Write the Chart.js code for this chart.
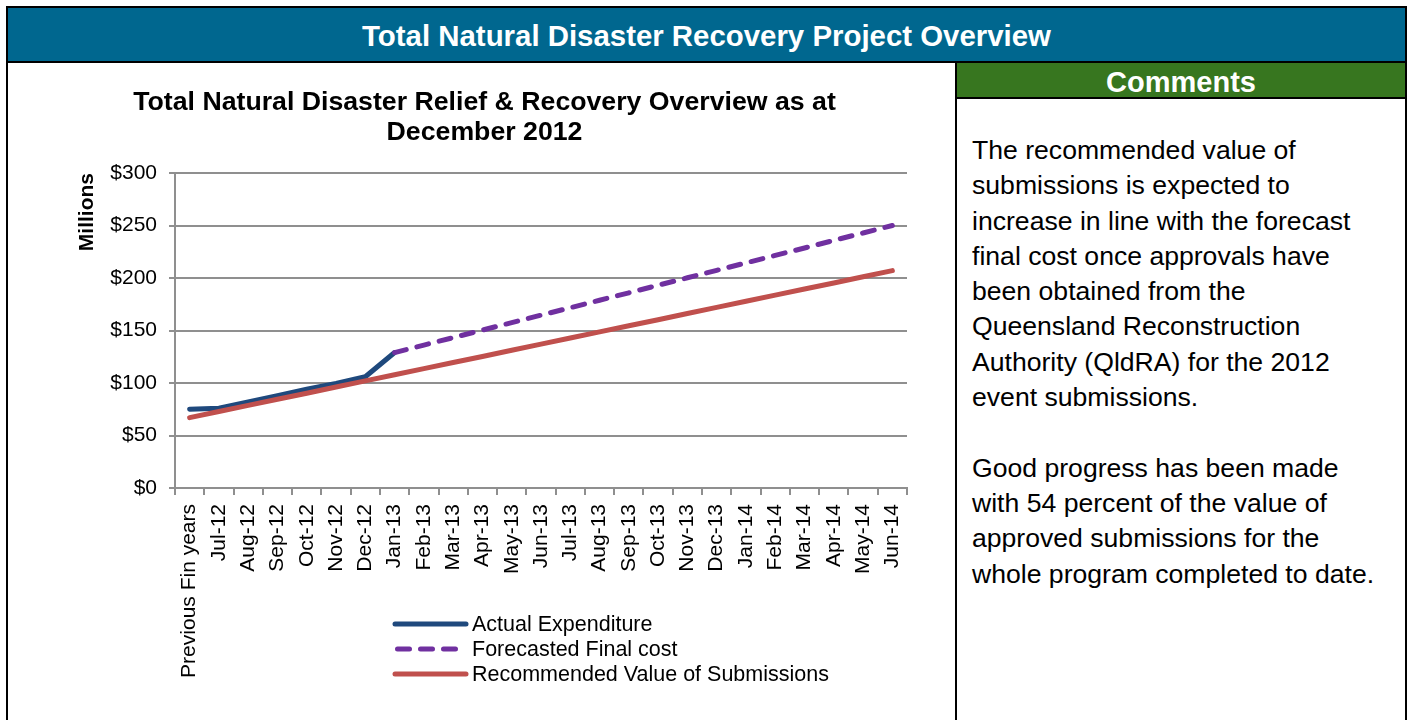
<!DOCTYPE html>
<html>
<head>
<meta charset="utf-8">
<script src="https://cdn.jsdelivr.net/npm/chart.js@4.4.1/dist/chart.umd.min.js"></script>
<style>
    body { margin: 0; background: #fff; font-family: 'Liberation Sans', Arial, sans-serif; }
    .frame { position: absolute; left: 6px; top: 6px; width: 1401px; height: 720px; border: 2px solid #000; border-bottom: none; box-sizing: border-box; }
    .header { position: absolute; left: 8px; top: 8px; width: 1397px; height: 53px; background: #00678f; border-bottom: 2px solid #000;
        color: #fff; font-weight: bold; font-size: 29.4px; line-height: 55px; text-align: center; }
    .divider { position: absolute; left: 955px; top: 63px; width: 2px; height: 657px; background: #000; }
    .comments-head { position: absolute; left: 957px; top: 63px; width: 448px; height: 34px; background: #37761f; border-bottom: 2px solid #000;
        color: #fff; font-weight: bold; font-size: 29px; line-height: 38px; text-align: center; }
    .comments { position: absolute; left: 972px; top: 133px; font-size: 26.6px; line-height: 35.3px; color: #000; white-space: nowrap; }
    .chart-box { position: absolute; left: 8px; top: 63px; width: 947px; height: 657px; }
</style>
</head>
<body>
<div class="frame"></div>
<div class="header">Total Natural Disaster Recovery Project Overview</div>
<div class="divider"></div>
<div class="comments-head">Comments</div>
<div class="comments">
The recommended value of<br>
submissions is expected to<br>
increase in line with the forecast<br>
final cost once approvals have<br>
been obtained from the<br>
Queensland Reconstruction<br>
Authority (QldRA) for the 2012<br>
event submissions.<br>
<br>
Good progress has been made<br>
with 54 percent of the value of<br>
approved submissions for the<br>
whole program completed to date.
</div>
<div class="chart-box"><canvas id="chart"></canvas></div>

<script>
const labels = [
    'Previous Fin years', 'Jul-12', 'Aug-12', 'Sep-12', 'Oct-12', 'Nov-12', 'Dec-12',
    'Jan-13', 'Feb-13', 'Mar-13', 'Apr-13', 'May-13', 'Jun-13', 'Jul-13', 'Aug-13',
    'Sep-13', 'Oct-13', 'Nov-13', 'Dec-13', 'Jan-14', 'Feb-14', 'Mar-14', 'Apr-14',
    'May-14', 'Jun-14',
];

// millions of dollars
const actual = [75, 76, 82, 88, 94, 99.5, 106, 129,
    null, null, null, null, null, null, null, null, null, null, null, null, null, null, null, null, null];

const forecast = [null, null, null, null, null, null, null,
    129, 136.1, 143.2, 150.4, 157.5, 164.6, 171.7, 178.8, 185.9, 193.1, 200.2,
    207.3, 214.4, 221.5, 228.6, 235.8, 242.9, 250];

const recommended = [67, 72.8, 78.7, 84.5, 90.3, 96.2, 102, 107.8, 113.7, 119.5,
    125.3, 131.2, 137, 142.8, 148.7, 154.5, 160.3, 166.2, 172, 177.8, 183.7,
    189.5, 195.3, 201.2, 207];

const yTicks = [0, 50, 100, 150, 200, 250, 300];

const font = "'Liberation Sans', Arial, sans-serif";
const gridColor = '#8f8f8f';

// legend stacked in one column, drawn on the canvas
const lineLegend = {
    id: 'lineLegend',
    afterDraw(chart, args, opts) {
        const ctx = chart.ctx;
        ctx.save();
        ctx.font = opts.font;
        ctx.textBaseline = 'middle';
        ctx.textAlign = 'left';
        chart.data.datasets.forEach((ds, i) => {
            const y = opts.y + i * opts.rowHeight;
            const dashed = !!ds.borderDash;
            ctx.beginPath();
            ctx.strokeStyle = ds.borderColor;
            ctx.lineWidth = ds.borderWidth;
            ctx.lineCap = 'round';
            ctx.setLineDash(ds.borderDash || []);
            ctx.moveTo(opts.x + (dashed ? 2.5 : 0), y);
            ctx.lineTo(opts.x + (dashed ? 62 : opts.lineLength), y);
            ctx.stroke();
            ctx.setLineDash([]);
            ctx.fillStyle = '#000';
            ctx.fillText(ds.label, opts.x + opts.lineLength + opts.gap, y + 1);
        });
        ctx.restore();
    }
};

const data = {
    labels: labels,
    datasets: [
        {
            label: 'Actual Expenditure',
            data: actual,
            borderColor: '#1f497d',
            backgroundColor: '#1f497d',
            borderWidth: 5,
            borderCapStyle: 'round',
            order: 2,
        },
        {
            label: 'Forecasted Final cost',
            data: forecast,
            borderColor: '#7030a0',
            backgroundColor: '#7030a0',
            borderWidth: 5,
            borderDash: [12, 11],
            borderCapStyle: 'round',
            order: 1,
        },
        {
            label: 'Recommended Value of Submissions',
            data: recommended,
            borderColor: '#c0504d',
            backgroundColor: '#c0504d',
            borderWidth: 5,
            borderCapStyle: 'round',
            order: 0,
        }
    ]
};

const options = {
    responsive: true,
    maintainAspectRatio: false,
    animation: false,
    layout: {
        padding: { left: 54, right: 48, top: 0, bottom: 22 }
    },
    elements: {
        point: { radius: 0 },
        line: { tension: 0, borderJoinStyle: 'round' }
    },
    scales: {
        x: {
            offset: true,
            grid: {
                offset: true,
                drawOnChartArea: false,
                drawTicks: true,
                tickLength: 7,
                color: gridColor,
                lineWidth: 2,
            },
            border: { color: gridColor, width: 2 },
            ticks: {
                autoSkip: false,
                maxRotation: 90,
                minRotation: 90,
                padding: 9,
                color: '#000',
                font: { family: font, size: 21 }
            },
            afterFit(scale) { scale.height = 210; }
        },
        y: {
            min: 0,
            max: 300,
            afterBuildTicks(scale) { scale.ticks = yTicks.map(v => ({ value: v })); },
            grid: {
                color: gridColor,
                lineWidth: 2,
                tickLength: 6,
            },
            border: { color: gridColor, width: 2 },
            ticks: {
                padding: 12,
                color: '#000',
                font: { family: font, size: 21 },
                callback: v => '$' + v
            },
            title: {
                display: true,
                text: 'Millions',
                align: 'end',
                color: '#000',
                padding: 13,
                font: { family: font, size: 21, weight: 'bold' }
            },
            afterFit(scale) { scale.width = 113; }
        }
    },
    plugins: {
        legend: { display: false },
        tooltip: { enabled: false },
        title: {
            display: true,
            text: ['Total Natural Disaster Relief & Recovery Overview as at', 'December 2012'],
            color: '#000',
            font: { family: font, size: 26.7, weight: 'bold', lineHeight: 30 / 26.7 },
            padding: { top: 25, bottom: 25 }
        },
        lineLegend: {
            x: 387,
            y: 561,
            rowHeight: 25,
            lineLength: 71,
            gap: 6,
            font: '21.5px ' + font
        }
    }
};

const chart = new Chart(
    document.getElementById('chart'),
    {
        type: 'line',
        data: data,
        options: options,
        plugins: [lineLegend]
    }
);
</script>
</body>
</html>
